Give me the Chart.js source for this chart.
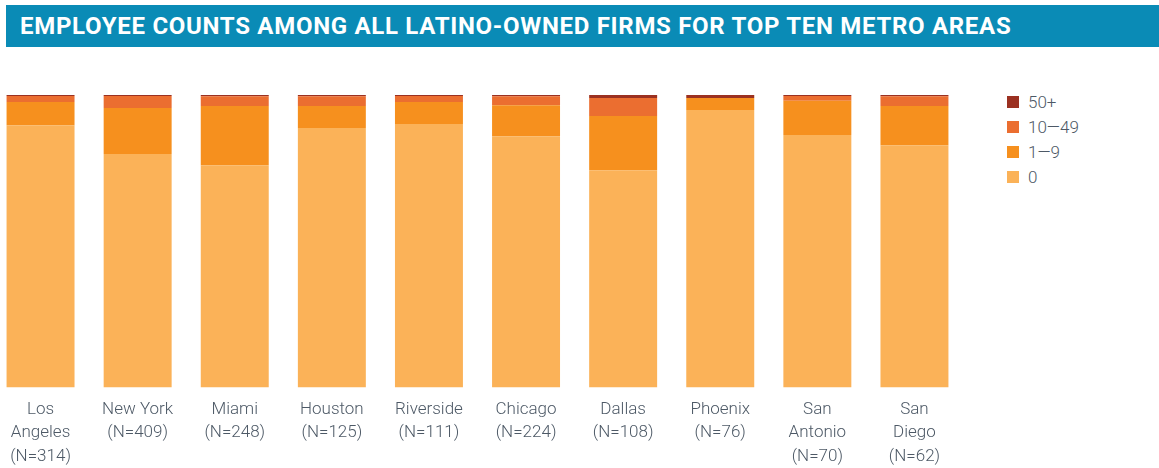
<!DOCTYPE html>
<html>
<head>
<meta charset="utf-8">
<script src="https://cdn.jsdelivr.net/npm/chart.js@4.4.1/dist/chart.umd.min.js"></script>
<style>
    html, body { margin: 0; padding: 0; background: #ffffff; }
    body { width: 1159px; height: 468px; position: relative; overflow: hidden; font-family: Roboto, sans-serif; }
    .banner {
        position: absolute; left: 6px; top: 5px; width: 1153px; height: 42px;
        background: #0a8bb6; color: #ffffff;
        font-weight: 700; font-size: 24px; line-height: 42px; letter-spacing: 0.7px;
        padding-left: 14px; box-sizing: border-box; white-space: nowrap;
    }
    .chart-wrap { position: absolute; left: -8px; top: 50px; width: 971px; height: 428px; }
    .legend { position: absolute; left: 1007px; top: 89px; }
    .legend-item { height: 25px; display: flex; align-items: center; font-size: 17px; font-weight: 300; color: #4d5966; }
    .legend-box { width: 12px; height: 12px; margin-right: 9px; }
</style>
</head>
<body>
<div class="banner">EMPLOYEE COUNTS AMONG ALL LATINO-OWNED FIRMS FOR TOP TEN METRO AREAS</div>
<div class="chart-wrap"><canvas id="employeeChart"></canvas></div>
<div class="legend" id="legend"></div>
<script>
const cities = [
    ['Los', 'Angeles', '(N=314)'],
    ['New York', '(N=409)'],
    ['Miami', '(N=248)'],
    ['Houston', '(N=125)'],
    ['Riverside', '(N=111)'],
    ['Chicago', '(N=224)'],
    ['Dallas', '(N=108)'],
    ['Phoenix', '(N=76)'],
    ['San', 'Antonio', '(N=70)'],
    ['San', 'Diego', '(N=62)']
];

// percent of firms by employee count
const zeroEmployees = [89.7, 79.8, 76.0, 88.7, 90.1, 85.9, 74.3, 94.9, 86.3, 82.8];
const oneToNine = [7.9, 15.8, 20.2, 7.5, 7.5, 10.6, 18.5, 4.1, 11.7, 13.4];
const tenToFortyNine = [2.1, 4.1, 3.4, 3.4, 2.1, 3.1, 6.2, 0, 1.7, 3.4];
const fiftyPlus = [0.3, 0.3, 0.4, 0.4, 0.3, 0.4, 1.0, 1.0, 0.3, 0.4];

const seriesLabels = ['0', '1\u20149', '10\u201449', '50+'];
const seriesColors = ['#fbb258', '#f6901e', '#eb6e30', '#9b3121'];

const datasets = [zeroEmployees, oneToNine, tenToFortyNine, fiftyPlus].map((data, i) => ({
    label: seriesLabels[i],
    data: data,
    backgroundColor: seriesColors[i],
    borderWidth: 0,
    categoryPercentage: 1,
    barPercentage: 0.7
}));

const ctx = document.getElementById('employeeChart').getContext('2d');
new Chart(ctx, {
    type: 'bar',
    data: {
        labels: cities,
        datasets: datasets
    },
    options: {
        responsive: true,
        maintainAspectRatio: false,
        animation: false,
        layout: {
            padding: { top: 45, left: 0, right: 0, bottom: 0 }
        },
        plugins: {
            legend: { display: false },
            tooltip: { enabled: false }
        },
        scales: {
            x: {
                stacked: true,
                grid: { display: false, drawTicks: false },
                border: { display: false },
                ticks: {
                    color: '#4d5966',
                    padding: 10,
                    autoSkip: false,
                    maxRotation: 0,
                    font: { family: 'Roboto', size: 17, weight: 300, lineHeight: 1.38 }
                }
            },
            y: {
                stacked: true,
                display: false,
                min: 0,
                max: 100
            }
        }
    }
});

// legend, top to bottom
const legendEl = document.getElementById('legend');
for (let i = seriesLabels.length - 1; i >= 0; i--) {
    const item = document.createElement('div');
    item.className = 'legend-item';
    item.innerHTML = `<span class="legend-box" style="background:${seriesColors[i]}"></span><span>${seriesLabels[i]}</span>`;
    legendEl.appendChild(item);
}
</script>
</body>
</html>
